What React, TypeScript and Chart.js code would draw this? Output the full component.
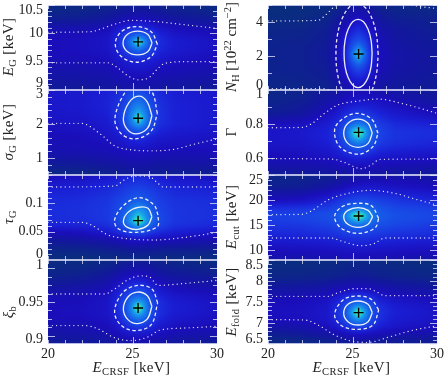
import React, { useEffect, useRef } from "react";
import { Chart, registerables } from "chart.js";

Chart.register(...registerables);

type Pt = [number, number];

const xGrid = [20, 22, 23.5, 24.1, 24.6, 25, 25.35, 25.7, 26.1, 26.6, 27.5, 30];
const xTicks = [20, 21, 22, 23, 24, 25, 26, 27, 28, 29, 30];
const xMajors = [20, 25, 30];

const colorStops: [number, number, number, number][] = [
  [0, 6, 50, 112], [10, 10, 44, 128], [20, 18, 24, 156], [30, 26, 14, 186], [40, 26, 30, 212],
  [50, 26, 58, 226], [60, 22, 88, 232], [75, 24, 150, 236], [85, 30, 215, 215], [92, 72, 235, 130], [100, 240, 224, 32],
];

// ---- E_G
const egRows = [10.5, 10.25, 10.08, 9.97, 9.9, 9.85, 9.78, 9.68, 9.5, 9.25, 9];
const egGrid = [
  [10, 11, 13, 14, 15, 16, 16, 16, 15, 14, 13, 10],
  [17, 18, 21, 24, 27, 29, 29, 29, 27, 25, 22, 18],
  [26, 27, 29, 36, 42, 46, 48, 46, 42, 36, 31, 26],
  [29, 30, 33, 41, 52, 60, 64, 60, 52, 42, 35, 30],
  [30, 31, 34, 43, 55, 68, 78, 68, 55, 44, 37, 32],
  [30, 31, 34, 43, 56, 73, 97, 73, 56, 45, 38, 33],
  [30, 31, 34, 43, 55, 68, 78, 68, 55, 44, 38, 33],
  [30, 31, 33, 40, 50, 57, 61, 57, 50, 42, 37, 32],
  [28, 28, 30, 34, 38, 40, 41, 40, 38, 35, 32, 29],
  [23, 24, 25, 27, 29, 30, 30, 30, 29, 27, 26, 24],
  [18, 19, 20, 21, 22, 22, 22, 22, 22, 21, 20, 18],
];
const egSolid: Pt[] = [[26.16, 9.83], [25.91, 9.98], [25.3, 10.04], [24.69, 9.98], [24.44, 9.83], [24.69, 9.68], [25.3, 9.62], [25.91, 9.68], [26.16, 9.83]];
const egDashed: Pt[] = [[26.47, 9.81], [26.1, 10.03], [25.22, 10.12], [24.34, 10.03], [23.98, 9.81], [24.34, 9.59], [25.22, 9.49], [26.1, 9.59], [26.47, 9.81]];
const egDotted: Pt[][] = [
  [[20, 10.02], [22.56, 10.03], [23.16, 10.08], [23.94, 10.16], [24.93, 10.23], [25.72, 10.22], [26.31, 10.21], [27.89, 10.16], [29.66, 10.1], [30, 10.09]],
  [[20, 9.48], [23.55, 9.48], [24.04, 9.41], [24.73, 9.25], [25.33, 9.18], [25.92, 9.21], [26.51, 9.38], [26.9, 9.47], [28.28, 9.5], [30, 9.5]],
];
const egBest: Pt = [25.33, 9.85];

// ---- sigma_G
const sgRows = [3, 2.75, 2.5, 2.3, 2.17, 2.0, 1.85, 1.6, 1.2, 0.8, 0.5];
const sgGrid = [
  [36, 37, 40, 43, 48, 52, 53, 52, 48, 43, 39, 36],
  [36, 37, 41, 45, 52, 60, 63, 60, 52, 45, 40, 37],
  [36, 37, 41, 47, 56, 67, 72, 67, 56, 47, 41, 37],
  [35, 36, 40, 47, 58, 72, 82, 72, 58, 47, 41, 37],
  [34, 35, 39, 46, 58, 74, 95, 74, 58, 47, 41, 37],
  [33, 34, 38, 44, 56, 69, 78, 69, 56, 46, 41, 37],
  [31, 33, 36, 41, 52, 60, 64, 60, 52, 43, 39, 36],
  [29, 30, 33, 36, 40, 44, 45, 44, 40, 37, 35, 33],
  [27, 27, 28, 30, 31, 32, 32, 32, 31, 30, 29, 30],
  [18, 19, 21, 22, 23, 24, 24, 24, 23, 22, 22, 23],
  [11, 12, 14, 15, 16, 17, 17, 17, 17, 16, 16, 15],
];
const sgSolid: Pt[] = [[26.15, 2.24], [25.86, 2.66], [25.36, 2.82], [24.79, 2.63], [24.46, 2.17], [24.69, 1.84], [25.23, 1.71], [25.88, 1.87], [26.15, 2.24]];
const sgDashed: Pt[] = [[26.47, 2.31], [26.15, 2.95], [25.33, 3.29], [24.58, 2.95], [23.96, 2.17], [24.3, 1.73], [25.17, 1.56], [26.11, 1.8], [26.47, 2.31]];
const sgDotted: Pt[][] = [
  [[20, 2.02], [21.97, 2.02], [22.37, 1.96], [23.16, 1.68], [23.94, 1.36], [24.93, 1.24], [26.31, 1.21], [27.5, 1.26], [28.68, 1.41], [30, 1.56]],
];
const sgBest: Pt = [25.33, 2.167];

// ---- tau_G
const tgRows = [0.15, 0.125, 0.105, 0.09, 0.078, 0.069, 0.06, 0.05, 0.035, 0.02, 0];
const tgGrid = [
  [30, 32, 36, 38, 40, 42, 42, 42, 40, 37, 34, 32],
  [40, 41, 44, 47, 50, 52, 53, 52, 50, 47, 43, 41],
  [44, 45, 48, 52, 56, 60, 62, 60, 56, 51, 47, 45],
  [45, 46, 49, 54, 61, 70, 74, 70, 61, 53, 48, 46],
  [45, 46, 49, 55, 65, 76, 84, 76, 65, 55, 48, 46],
  [44, 45, 48, 54, 66, 80, 98, 80, 66, 55, 48, 45],
  [40, 41, 45, 50, 60, 70, 76, 70, 60, 52, 46, 43],
  [30, 32, 38, 44, 50, 56, 58, 56, 50, 45, 40, 36],
  [20, 22, 25, 28, 31, 33, 33, 33, 31, 30, 28, 26],
  [14, 15, 17, 18, 19, 20, 20, 20, 20, 19, 18, 17],
  [8, 8, 9, 10, 10, 11, 11, 11, 10, 10, 9, 9],
];
const tgSolid: Pt[] = [[26.15, 0.0765], [25.92, 0.0912], [25.33, 0.0929], [24.73, 0.0841], [24.46, 0.0676], [24.73, 0.0571], [25.33, 0.0541], [25.92, 0.0618], [26.15, 0.0765]];
const tgDashed: Pt[] = [[26.51, 0.0794], [26.27, 0.0971], [25.42, 0.11], [24.5, 0.0971], [23.94, 0.0706], [24.18, 0.0547], [25.23, 0.0488], [26.47, 0.0588], [26.51, 0.0794]];
const tgDotted: Pt[][] = [
  [[20, 0.1288], [23.94, 0.1306], [24.54, 0.1418], [25.13, 0.1482], [25.92, 0.1482], [26.51, 0.1353], [26.8, 0.1288], [30, 0.1288]],
  [[20, 0.0665], [21.97, 0.0665], [22.56, 0.0618], [23.55, 0.0441], [24.54, 0.0382], [26.31, 0.0353], [27.89, 0.0394], [29.07, 0.0441], [30, 0.0488]],
];
const tgBest: Pt = [25.33, 0.0694];

// ---- xi_b
const xbRows = [1.012, 0.99, 0.97, 0.958, 0.95, 0.941, 0.932, 0.922, 0.905, 0.895, 0.888];
const xbGrid = [
  [10, 10, 11, 13, 15, 16, 16, 16, 15, 14, 12, 10],
  [14, 16, 20, 24, 28, 31, 31, 30, 27, 23, 20, 17],
  [22, 24, 28, 37, 44, 50, 52, 50, 43, 36, 30, 26],
  [28, 29, 33, 42, 53, 62, 65, 62, 52, 42, 36, 31],
  [29, 30, 34, 44, 57, 71, 78, 71, 57, 45, 38, 33],
  [30, 31, 34, 44, 58, 75, 99, 75, 58, 45, 39, 34],
  [30, 31, 34, 43, 56, 70, 78, 70, 56, 45, 38, 33],
  [28, 29, 32, 39, 50, 58, 62, 58, 50, 41, 35, 31],
  [24, 25, 27, 31, 36, 38, 39, 38, 36, 32, 28, 26],
  [20, 21, 23, 26, 28, 29, 30, 29, 28, 26, 23, 21],
  [16, 17, 19, 21, 22, 23, 23, 23, 22, 21, 19, 17],
];
const xbSolid: Pt[] = [[26.15, 0.9436], [25.88, 0.9593], [25.29, 0.9647], [24.73, 0.9574], [24.46, 0.9397], [24.73, 0.924], [25.29, 0.9181], [25.88, 0.925], [26.15, 0.9436]];
const xbDashed: Pt[] = [[26.49, 0.9485], [26.15, 0.9691], [25.33, 0.9745], [24.44, 0.9642], [23.94, 0.9363], [24.34, 0.9152], [25.23, 0.9078], [26.11, 0.9167], [26.49, 0.9485]];
const xbDotted: Pt[][] = [
  [[20, 0.9618], [23.35, 0.9618], [23.94, 0.9691], [24.73, 0.9828], [25.52, 0.9887], [26.02, 0.9868], [26.51, 0.9745], [27.89, 0.977], [30, 0.9819]],
  [[20, 0.9152], [22.17, 0.9152], [22.96, 0.9103], [23.94, 0.8971], [24.93, 0.8931], [25.92, 0.8985], [26.61, 0.9083], [28.28, 0.9118], [30, 0.9142]],
];
const xbBest: Pt = [25.33, 0.9412];

// ---- N_H
const nhRows = [5, 4.2, 3.5, 3, 2.5, 2.12, 1.7, 1.2, 0.7, 0.3, 0];
const nhGrid = [
  [8, 9, 10, 12, 16, 19, 20, 19, 17, 14, 12, 11],
  [10, 11, 14, 19, 25, 30, 32, 30, 26, 21, 17, 15],
  [13, 14, 17, 24, 33, 41, 46, 41, 34, 26, 21, 17],
  [14, 15, 18, 26, 37, 50, 56, 50, 38, 28, 22, 18],
  [15, 16, 19, 28, 41, 60, 70, 60, 42, 30, 23, 19],
  [15, 16, 20, 29, 43, 66, 88, 66, 44, 31, 24, 20],
  [15, 16, 19, 28, 41, 60, 70, 60, 42, 30, 24, 20],
  [15, 16, 18, 26, 37, 48, 54, 48, 38, 29, 23, 20],
  [14, 15, 17, 24, 32, 39, 42, 39, 33, 26, 22, 19],
  [13, 14, 16, 21, 27, 32, 34, 32, 28, 23, 20, 18],
  [12, 13, 15, 19, 24, 28, 29, 28, 25, 21, 19, 17],
];
const nhSolid: Pt[] = [[26.16, 2.15], [26.1, 2.92], [25.92, 3.57], [25.65, 4.01], [25.33, 4.16], [25.01, 4.01], [24.74, 3.57], [24.56, 2.92], [24.5, 2.15], [24.56, 1.38], [24.74, 0.73], [25.01, 0.29], [25.33, 0.14], [25.65, 0.29], [25.92, 0.73], [26.1, 1.38], [26.16, 2.15]];
const nhDashed: Pt[] = [[26.52, 2.1], [26.42, 3.24], [26.15, 4.21], [25.75, 4.85], [25.27, 5.08], [24.79, 4.85], [24.39, 4.21], [24.11, 3.24], [24.02, 2.1], [24.11, 0.96], [24.39, -0.01], [24.79, -0.65], [25.27, -0.88], [25.75, -0.65], [26.15, -0.01], [26.42, 0.96], [26.52, 2.1]];
const nhDotted: Pt[][] = [
  [[20, 4.06], [22.96, 4.1], [23.45, 4.45], [23.85, 4.84], [24.14, 5.06]],
  [[28.28, 5.04], [29.07, 4.9], [30, 4.8]],
  [[20, 0.08], [23.3, 0.08], [23.9, -0.1]],
];
const nhBest: Pt = [25.36, 2.12];

// ---- Gamma
const gaRows = [1, 0.93, 0.86, 0.8, 0.77, 0.75, 0.72, 0.68, 0.6, 0.55, 0.5];
const gaGrid = [
  [12, 14, 19, 22, 25, 27, 27, 27, 26, 24, 22, 17],
  [14, 17, 24, 28, 32, 35, 36, 36, 35, 33, 29, 22],
  [18, 21, 31, 37, 44, 48, 50, 49, 46, 42, 37, 30],
  [30, 32, 38, 45, 56, 64, 68, 65, 58, 50, 44, 40],
  [34, 36, 40, 47, 60, 76, 84, 76, 62, 52, 46, 44],
  [35, 36, 41, 48, 62, 80, 97, 80, 64, 53, 47, 45],
  [35, 36, 41, 47, 60, 75, 83, 75, 62, 52, 47, 44],
  [34, 35, 39, 45, 55, 63, 66, 63, 57, 49, 45, 42],
  [29, 30, 32, 35, 38, 40, 41, 40, 38, 36, 34, 32],
  [24, 25, 26, 28, 29, 30, 30, 30, 30, 29, 27, 25],
  [17, 18, 19, 20, 20, 21, 21, 21, 21, 20, 19, 18],
];
const gaSolid: Pt[] = [[26.17, 0.747], [25.92, 0.804], [25.33, 0.829], [24.73, 0.804], [24.48, 0.747], [24.73, 0.686], [25.33, 0.663], [25.92, 0.686], [26.17, 0.747]];
const gaDashed: Pt[] = [[26.51, 0.745], [26.15, 0.827], [25.23, 0.863], [24.34, 0.824], [23.94, 0.765], [24.24, 0.667], [25.33, 0.622], [26.21, 0.667], [26.51, 0.745]];
const gaDotted: Pt[][] = [
  [[20, 0.778], [21.97, 0.78], [22.56, 0.8], [23.35, 0.863], [24.14, 0.912], [25.33, 0.935], [26.51, 0.947], [27.89, 0.922], [30, 0.863]],
  [[20, 0.596], [23.75, 0.594], [24.54, 0.573], [25.52, 0.537], [26.11, 0.559], [26.61, 0.592], [30, 0.594]],
];
const gaBest: Pt = [25.36, 0.751];

// ---- E_cut
const ecRows = [25, 22.5, 20, 18.5, 17.5, 16.8, 16, 15, 13, 10.5, 8];
const ecGrid = [
  [12, 13, 15, 16, 18, 19, 20, 21, 22, 23, 24, 22],
  [17, 18, 23, 27, 31, 35, 36, 37, 37, 36, 34, 30],
  [30, 32, 40, 46, 50, 53, 54, 54, 53, 51, 48, 42],
  [44, 46, 50, 54, 60, 64, 66, 65, 62, 58, 54, 50],
  [50, 52, 55, 58, 66, 78, 84, 78, 68, 60, 56, 53],
  [52, 53, 56, 60, 70, 84, 99, 84, 70, 61, 57, 54],
  [50, 52, 55, 58, 66, 76, 82, 76, 67, 60, 56, 53],
  [48, 49, 52, 55, 60, 64, 66, 64, 61, 57, 54, 50],
  [42, 43, 45, 47, 49, 50, 50, 50, 49, 48, 46, 44],
  [32, 33, 34, 35, 36, 37, 37, 37, 36, 36, 35, 33],
  [24, 24, 25, 25, 26, 26, 26, 26, 26, 25, 25, 24],
];
const ecSolid: Pt[] = [[26.19, 16.67], [25.92, 17.93], [25.33, 18.47], [24.73, 17.93], [24.48, 16.67], [24.73, 15.13], [25.33, 14.53], [25.92, 15.13], [26.19, 16.67]];
const ecDashed: Pt[] = [[26.55, 16.33], [26.11, 18.87], [25.23, 19.33], [24.38, 18.67], [23.94, 16.67], [24.34, 14.33], [25.42, 13.33], [26.35, 14.47], [26.55, 16.33]];
const ecDotted: Pt[][] = [
  [[20, 17.07], [21.97, 17.13], [22.56, 17.8], [23.55, 20], [24.73, 21.33], [26.11, 21.93], [27.5, 21.33], [28.68, 20.2], [30, 19]],
  [[20, 12.4], [23.75, 12.4], [24.34, 11.8], [25.52, 10.87], [26.31, 11.33], [26.9, 12.4], [30, 12.4]],
];
const ecBest: Pt = [25.36, 16.8];

// ---- E_fold
const efRows = [8.5, 8.1, 7.8, 7.6, 7.42, 7.25, 7.08, 6.92, 6.75, 6.6, 6.5];
const efGrid = [
  [9, 9, 10, 11, 11, 12, 12, 12, 11, 11, 10, 9],
  [13, 14, 15, 16, 17, 18, 18, 18, 17, 16, 15, 13],
  [22, 23, 25, 28, 30, 32, 32, 32, 30, 28, 25, 22],
  [28, 29, 32, 38, 46, 50, 52, 50, 46, 38, 33, 29],
  [30, 31, 35, 44, 56, 66, 72, 66, 56, 45, 38, 33],
  [31, 32, 36, 46, 60, 78, 98, 78, 60, 47, 40, 35],
  [30, 31, 35, 44, 56, 68, 74, 68, 56, 45, 38, 34],
  [24, 26, 31, 38, 46, 52, 54, 52, 46, 40, 35, 31],
  [17, 20, 24, 28, 31, 34, 35, 34, 32, 29, 27, 25],
  [12, 14, 17, 19, 21, 22, 23, 23, 22, 21, 20, 19],
  [10, 11, 13, 15, 16, 17, 18, 18, 17, 16, 15, 15],
];
const efSolid: Pt[] = [[26.17, 7.246], [25.92, 7.444], [25.33, 7.524], [24.73, 7.444], [24.48, 7.23], [24.73, 7.032], [25.33, 6.952], [25.92, 7.032], [26.17, 7.246]];
const efDashed: Pt[] = [[26.55, 7.31], [26.11, 7.563], [25.29, 7.643], [24.44, 7.548], [23.94, 7.19], [24.38, 6.929], [25.33, 6.849], [26.21, 6.952], [26.55, 7.31]];
const efDotted: Pt[][] = [
  [[20, 7.635], [23.55, 7.635], [24.14, 7.722], [25.13, 7.817], [25.92, 7.817], [26.51, 7.722], [26.9, 7.651], [30, 7.651]],
  [[20, 7.079], [22.17, 7.071], [22.96, 6.952], [23.94, 6.714], [24.93, 6.571], [25.92, 6.54], [27.1, 6.659], [28.48, 6.817], [30, 6.937]],
];
const efBest: Pt = [25.36, 7.246];

type Run = { t: string; s: "i" | "r" | "sub" | "sup" | "isub" };
const keV: Run = { t: " [keV]", s: "r" };

type Panel = {
  col: number; row: number; min: number; max: number; majors: number[]; minors: number[];
  nudge: Record<string, number>; rows: number[]; grid: number[][];
  solid: Pt[]; dashed: Pt[]; dotted: Pt[][]; best: Pt; title: Run[]; titleMid: number;
};

const steps = (a: number, b: number, n: number) => { const o: number[] = []; for (let i = 0; i <= n; i++) o.push(+(a + ((b - a) * i) / n).toFixed(5)); return o; };

const panels: Panel[] = [
  { col: 0, row: 0, min: 9, max: 10.5, majors: [10.5, 10, 9.5, 9], minors: steps(9, 10.5, 15), nudge: { "10.5": 5, "9": -7 }, rows: egRows, grid: egGrid, solid: egSolid, dashed: egDashed, dotted: egDotted, best: egBest, title: [{ t: "E", s: "i" }, { t: "G", s: "sub" }, keV], titleMid: 47 },
  { col: 0, row: 1, min: 0.5, max: 3, majors: [3, 2, 1], minors: steps(0.6, 3, 12), nudge: { "3": 4 }, rows: sgRows, grid: sgGrid, solid: sgSolid, dashed: sgDashed, dotted: sgDotted, best: sgBest, title: [{ t: "σ", s: "i" }, { t: "G", s: "sub" }, keV], titleMid: 132 },
  { col: 0, row: 2, min: 0, max: 0.15, majors: [0.1, 0.05, 0], minors: steps(0, 0.15, 15), nudge: { "0": -6 }, rows: tgRows, grid: tgGrid, solid: tgSolid, dashed: tgDashed, dotted: tgDotted, best: tgBest, title: [{ t: "τ", s: "i" }, { t: "G", s: "sub" }], titleMid: 217 },
  { col: 0, row: 3, min: 0.888, max: 1.012, majors: [1, 0.95, 0.9], minors: steps(0.9, 1, 8), nudge: { "1": -3, "0.9": 3 }, rows: xbRows, grid: xbGrid, solid: xbSolid, dashed: xbDashed, dotted: xbDotted, best: xbBest, title: [{ t: "ξ", s: "i" }, { t: "b", s: "sub" }], titleMid: 312 },
  { col: 1, row: 0, min: 0, max: 5, majors: [4, 2, 0], minors: steps(0, 5, 5), nudge: { "0": -5 }, rows: nhRows, grid: nhGrid, solid: nhSolid, dashed: nhDashed, dotted: nhDotted, best: nhBest, title: [{ t: "N", s: "i" }, { t: "H", s: "sub" }, { t: " [10", s: "r" }, { t: "22", s: "sup" }, { t: " cm", s: "r" }, { t: "−2", s: "sup" }, { t: "]", s: "r" }], titleMid: 47 },
  { col: 1, row: 1, min: 0.5, max: 1, majors: [1, 0.8, 0.6], minors: steps(0.5, 1, 5), nudge: { "1": 4 }, rows: gaRows, grid: gaGrid, solid: gaSolid, dashed: gaDashed, dotted: gaDotted, best: gaBest, title: [{ t: "Γ", s: "r" }], titleMid: 132 },
  { col: 1, row: 2, min: 8, max: 25, majors: [25, 20, 15, 10], minors: steps(8, 25, 17), nudge: { "25": 5 }, rows: ecRows, grid: ecGrid, solid: ecSolid, dashed: ecDashed, dotted: ecDotted, best: ecBest, title: [{ t: "E", s: "i" }, { t: "cut", s: "sub" }, keV], titleMid: 217 },
  { col: 1, row: 3, min: 6.5, max: 8.5, majors: [8.5, 8, 7.5, 7, 6.5], minors: steps(6.5, 8.5, 20), nudge: { "8.5": 5, "6.5": -5 }, rows: efRows, grid: efGrid, solid: efSolid, dashed: efDashed, dotted: efDotted, best: efBest, title: [{ t: "E", s: "i" }, { t: "fold", s: "sub" }, keV], titleMid: 302 },
];

const rowTop = [5, 90, 175, 260];
const rowH = [85, 85, 85, 84];
const colLeft = [0, 223];
const colAxisW = [48, 45];
const colPadRight = [7, 10];
const CANVAS_W = 224;
const PAD_TOP = 3;
const FAMILY = '"Liberation Serif"';
const INK = "#222";
const TICK = "rgba(238,238,255,0.72)";

function colorAt(v: number): [number, number, number] {
  for (let i = 1; i < colorStops.length; i++) {
    if (v <= colorStops[i][0]) {
      const a = colorStops[i - 1], b = colorStops[i];
      const f = (v - a[0]) / (b[0] - a[0]);
      return [a[1] + (b[1] - a[1]) * f, a[2] + (b[2] - a[2]) * f, a[3] + (b[3] - a[3]) * f];
    }
  }
  const l = colorStops[colorStops.length - 1];
  return [l[1], l[2], l[3]];
}

function locate(arr: number[], v: number): [number, number] {
  const asc = arr[arr.length - 1] > arr[0];
  for (let i = 0; i < arr.length - 1; i++) {
    const a = arr[i], b = arr[i + 1];
    if (asc ? v <= b : v >= b) {
      const f = (v - a) / (b - a);
      return [i, Math.max(0, Math.min(1, f))];
    }
  }
  return [arr.length - 2, 1];
}

function drawRuns(ctx: CanvasRenderingContext2D, runs: Run[], x: number, y: number) {
  const fontOf = (s: Run["s"]) =>
    s === "i" ? `italic 15px ${FAMILY}` : s === "r" ? `15px ${FAMILY}` : s === "isub" ? `italic 10.5px ${FAMILY}` : `10.5px ${FAMILY}`;
  (ctx as any).letterSpacing = runs.length > 4 ? "0px" : "0.4px";
  let total = 0;
  for (const r of runs) { ctx.font = fontOf(r.s); total += ctx.measureText(r.t).width; }
  let cx = x - total / 2;
  ctx.textAlign = "left";
  ctx.textBaseline = "alphabetic";
  for (const r of runs) {
    ctx.font = fontOf(r.s);
    const dy = r.s === "sub" || r.s === "isub" ? 3 : r.s === "sup" ? -5.5 : 0;
    ctx.fillText(r.t, cx, y + dy);
    cx += ctx.measureText(r.t).width;
  }
  (ctx as any).letterSpacing = "0px";
}

function makePlugin(p: Panel) {
  return {
    id: "panelDecor",
    beforeDatasetsDraw(chart: any) {
      const { ctx, chartArea: a, scales } = chart;
      const w = Math.round(a.right - a.left), h = Math.round(a.bottom - a.top);
      const off = document.createElement("canvas");
      off.width = w; off.height = h;
      const oc = off.getContext("2d")!;
      const img = oc.createImageData(w, h);
      for (let j = 0; j < h; j++) {
        const [r, fy] = locate(p.rows, scales.y.getValueForPixel(a.top + j + 0.5));
        for (let i = 0; i < w; i++) {
          const [c, fx] = locate(xGrid, scales.x.getValueForPixel(a.left + i + 0.5));
          const v0 = p.grid[r][c] * (1 - fx) + p.grid[r][c + 1] * fx;
          const v1 = p.grid[r + 1][c] * (1 - fx) + p.grid[r + 1][c + 1] * fx;
          const [R, G, B] = colorAt(v0 * (1 - fy) + v1 * fy);
          const k = (j * w + i) * 4;
          img.data[k] = R; img.data[k + 1] = G; img.data[k + 2] = B; img.data[k + 3] = 255;
        }
      }
      oc.putImageData(img, 0, 0);
      ctx.save();
      ctx.beginPath();
      ctx.rect(a.left, a.top, w, h);
      ctx.clip();
      ctx.drawImage(off, a.left, a.top);
      ctx.filter = "blur(1.2px)";
      ctx.drawImage(off, a.left, a.top);
      ctx.restore();
    },
    afterDraw(chart: any) {
      const { ctx, chartArea: a, scales } = chart;
      ctx.save();
      ctx.strokeStyle = TICK;
      ctx.lineWidth = 1;
      ctx.beginPath();
      for (const t of scales.x.ticks) {
        const px = Math.round(scales.x.getPixelForValue(t.value)) + 0.5;
        const len = t.value === 25 ? 7 : 4;
        ctx.moveTo(px, a.top); ctx.lineTo(px, a.top + len);
        ctx.moveTo(px, a.bottom); ctx.lineTo(px, a.bottom - len);
      }
      for (const t of scales.y.ticks) {
        const py = Math.round(scales.y.getPixelForValue(t.value)) + 0.5;
        const len = t.major ? 7 : 4;
        ctx.moveTo(a.left, py); ctx.lineTo(a.left + len, py);
        ctx.moveTo(a.right, py); ctx.lineTo(a.right - len, py);
      }
      ctx.stroke();
      ctx.strokeStyle = "rgba(225,225,250,0.8)";
      ctx.beginPath();
      ctx.moveTo(a.left, a.top + 0.5); ctx.lineTo(a.right, a.top + 0.5);
      ctx.moveTo(a.left, a.bottom - 0.5); ctx.lineTo(a.right, a.bottom - 0.5);
      ctx.stroke();
      ctx.fillStyle = INK;
      ctx.font = `14px ${FAMILY}`;
      ctx.textAlign = "right";
      ctx.textBaseline = "middle";
      for (const t of scales.y.ticks) {
        if (!t.major) continue;
        const lab = String(t.label);
        ctx.fillText(lab, a.left - 5, scales.y.getPixelForValue(t.value) + (p.nudge[lab] || 0));
      }
      if (p.row === 3) {
        ctx.textAlign = "center";
        for (const t of scales.x.ticks) {
          if (!xMajors.includes(t.value)) continue;
          ctx.fillText(String(t.label), scales.x.getPixelForValue(t.value), a.bottom + 10);
        }
        ctx.fillStyle = INK;
        drawRuns(ctx, [{ t: "E", s: "i" }, { t: "CRSF", s: "sub" }, keV], (a.left + a.right) / 2 - 1, a.bottom + 28);
      }
      ctx.save();
      ctx.translate(13, p.titleMid - (rowTop[p.row] - PAD_TOP));
      ctx.rotate(-Math.PI / 2);
      ctx.fillStyle = INK;
      drawRuns(ctx, p.title, 0, 0);
      ctx.restore();
      ctx.restore();
    },
  };
}

const toXY = (pts: Pt[]) => pts.map(([x, y]) => ({ x, y }));

function PanelChart({ p }: { p: Panel }) {
  const ref = useRef<HTMLCanvasElement>(null);
  const botH = p.row === 3 ? 32 : 3;
  const height = PAD_TOP + rowH[p.row] + botH;
  useEffect(() => {
    const white = "rgba(255,255,255,0.92)";
    const chart = new Chart(ref.current!, {
      type: "scatter",
      data: {
        datasets: [
          { data: toXY([p.best]), showLine: false, pointStyle: "cross", pointRadius: 5, borderColor: "#000", borderWidth: 1.4 } as any,
          { data: toXY(p.solid), showLine: true, borderColor: white, borderWidth: 1.3, pointRadius: 0, tension: 0.36, fill: false },
          { data: toXY(p.dashed), showLine: true, borderColor: white, borderWidth: 1.3, borderDash: [3.5, 2.5], pointRadius: 0, tension: 0.36, fill: false },
          ...p.dotted.map((d) => ({
            data: toXY(d), showLine: true, borderColor: white, borderWidth: 1.3, borderDash: [0.01, 4.3], borderCapStyle: "round",
            pointRadius: 0, cubicInterpolationMode: "monotone", fill: false,
          })),
        ] as any,
      },
      options: {
        responsive: false,
        animation: false,
        events: [],
        layout: { autoPadding: false, padding: { top: PAD_TOP, right: colPadRight[p.col], left: 0, bottom: 0 } },
        plugins: { legend: { display: false }, tooltip: { enabled: false } },
        scales: {
          x: {
            type: "linear", min: 20, max: 30, bounds: "data",
            grid: { display: false }, border: { display: false },
            ticks: { display: false, autoSkip: false, callback: (v: any) => String(v) },
            afterBuildTicks: (s: any) => { s.ticks = xTicks.map((value) => ({ value })); },
            afterFit: (s: any) => { s.height = botH; },
          },
          y: {
            type: "linear", min: p.min, max: p.max, bounds: "data",
            grid: { display: false }, border: { display: false },
            ticks: { display: false, autoSkip: false, callback: (v: any) => String(v) },
            afterBuildTicks: (s: any) => {
              const minor = p.minors.filter((v) => !p.majors.some((m) => Math.abs(m - v) < 1e-6));
              s.ticks = [...p.majors.map((value) => ({ value, major: true })), ...minor.map((value) => ({ value, major: false }))];
            },
            afterFit: (s: any) => { s.width = colAxisW[p.col]; },
          },
        },
      } as any,
      plugins: [makePlugin(p)],
    });
    return () => chart.destroy();
  }, [p]);
  return (
    <canvas
      ref={ref}
      width={CANVAS_W}
      height={height}
      style={{ position: "absolute", display: "block", left: colLeft[p.col], top: rowTop[p.row] - PAD_TOP, width: CANVAS_W, height }}
    />
  );
}

export default function App() {
  return (
    <div style={{ position: "absolute", left: 0, top: 0, width: 447, height: 376, overflow: "hidden", background: "#fff" }}>
      {panels.map((p) => (
        <PanelChart key={`${p.col}-${p.row}`} p={p} />
      ))}
    </div>
  );
}
